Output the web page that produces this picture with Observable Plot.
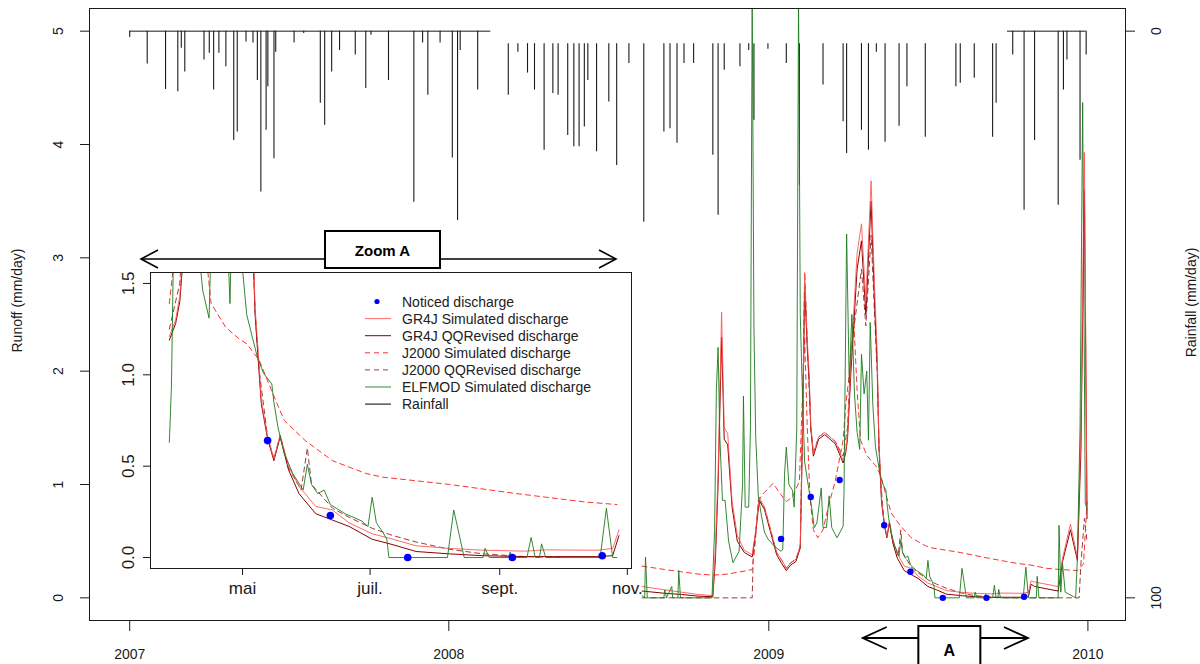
<!DOCTYPE html>
<html><head><meta charset="utf-8">
<script src="https://cdn.jsdelivr.net/npm/d3@7"></script>
<script src="https://cdn.jsdelivr.net/npm/@observablehq/plot@0.6"></script>
<style>
body{margin:0;background:#fff;}
#wrap{position:relative;width:1200px;height:664px;overflow:hidden;font-family:"Liberation Sans",Arial,sans-serif;background:#fff;}
#wrap svg{position:absolute;left:0;top:0;}
</style></head><body><div id="wrap"></div>
<script>
// ---------- tick labels / categories ----------
const yearTicks = ["2007-01-01","2008-01-01","2009-01-01","2010-01-01"];
const yearLabels = ["2007","2008","2009","2010"];
const runoffTicks = [0,1,2,3,4,5];
const rainTicks = [0,100];
const monthTicks = ["2009-05-01","2009-07-01","2009-09-01","2009-11-01"];
const monthLabels = ["mai","juil.","sept.","nov."];
const insetTicks = [0,0.5,1,1.5];
const zoomWindow = ["2009-04-19","2009-10-25"];
const insetWindow = ["2009-03-18","2009-11-03"];
const insetDataRange = ["2009-03-27","2009-10-28"];
const legendLabels = ["Noticed discharge","GR4J Simulated discharge","GR4J QQRevised discharge","J2000 Simulated discharge","J2000 QQRevised discharge","ELFMOD Simulated discharge","Rainfall"];

// ---------- rainfall (mm/day) ----------
const rainSpanA = ["2007-01-01","2008-02-18"];
const rainA = [["2007-01-01",1.1],["2007-01-21",5.8],["2007-02-11",10.3],["2007-02-25",10.7],["2007-03-01",3.0],["2007-03-05",7.2],["2007-03-27",5.1],["2007-04-02",3.9],["2007-04-07",10.4],["2007-04-13",3.9],["2007-04-21",6.3],["2007-04-30",19.3],["2007-05-04",17.8],["2007-05-14",1.9],["2007-05-22",2.1],["2007-05-27",8.7],["2007-05-31",28.4],["2007-06-06",17.5],["2007-06-08",9.8],["2007-06-15",22.5],["2007-06-17",3.7],["2007-07-08",2.1],["2007-07-19",0.4],["2007-08-07",12.7],["2007-08-12",16.6],["2007-08-20",7.2],["2007-08-29",3.4],["2007-09-16",4.2],["2007-09-28",10.1],["2007-10-04",0.7],["2007-10-24",8.7],["2007-11-22",30.2],["2007-12-02",2.1],["2007-12-08",11.3],["2007-12-22",2.1],["2008-01-05",22.4],["2008-01-11",33.4],["2008-01-14",3.4],["2008-02-03",10.4]];
const rainBaseB = 2.2;
const rainB = [["2008-03-09",11.3],["2008-03-20",3.7],["2008-03-31",7.4],["2008-04-08",10.4],["2008-04-19",21.0],["2008-04-29",11.0],["2008-05-05",11.3],["2008-05-16",18.4],["2008-05-23",20.4],["2008-05-29",20.4],["2008-06-04",16.9],["2008-06-08",8.7],["2008-06-18",21.3],["2008-07-02",12.5],["2008-07-11",23.7],["2008-07-25",5.7],["2008-08-11",33.7],["2008-09-03",17.8],["2008-09-10",17.2],["2008-09-18",19.8],["2008-09-26",5.7],["2008-10-07",5.7],["2008-10-29",21.9],["2008-11-04",32.5],["2008-11-11",6.9],["2008-11-29",6.3],["2008-12-09",3.4],["2008-12-15",15.7],["2008-12-31",3.2],["2009-01-21",5.7],["2009-02-05",27.2],["2009-03-04",9.5],["2009-03-27",16.0],["2009-03-31",21.6],["2009-04-17",17.5],["2009-04-25",21.0],["2009-05-04",3.7],["2009-05-14",19.6],["2009-05-30",16.8],["2009-06-08",9.8],["2009-06-29",18.7],["2009-08-03",9.8],["2009-08-08",9.2],["2009-08-24",8.3],["2009-09-14",18.7],["2009-09-18",12.7]];
const rainSpanC = ["2009-10-01","2009-12-30"];
const rainC = [["2009-10-07",4.2],["2009-10-20",31.6],["2009-11-01",19.3],["2009-11-28",30.7],["2009-12-04",10.4],["2009-12-08",5.1],["2009-12-23",22.8],["2009-12-30",4.2]];

// ---------- discharge (mm/day) ----------
const observed = [["2009-01-15",0.52],["2009-02-18",0.89],["2009-03-23",1.04],["2009-05-13",0.64],["2009-06-12",0.23],["2009-07-19",0.0],["2009-09-07",0.0],["2009-10-20",0.01]];

const gr4jSim = [["2008-08-09",0.10],["2008-09-04",0.07],["2008-09-23",0.05],["2008-10-12",0.03],["2008-10-29",0.02],["2008-11-01",0.45],["2008-11-04",1.10],["2008-11-08",2.52],["2008-11-11",1.50],["2008-11-15",1.45],["2008-11-20",0.85],["2008-11-26",0.55],["2008-12-04",0.42],["2008-12-13",0.38],["2008-12-17",0.59],["2008-12-21",0.89],["2008-12-27",0.80],["2009-01-03",0.60],["2009-01-10",0.40],["2009-01-16",0.33],["2009-01-21",0.26],["2009-01-26",0.31],["2009-02-01",0.34],["2009-02-06",0.46],["2009-02-09",1.68],["2009-02-11",2.87],["2009-02-14",2.27],["2009-02-16",2.00],["2009-02-18",1.53],["2009-02-21",1.27],["2009-02-27",1.42],["2009-03-06",1.46],["2009-03-12",1.42],["2009-03-18",1.38],["2009-03-27",1.21],["2009-03-30",1.30],["2009-04-01",1.43],["2009-04-05",2.10],["2009-04-12",3.04],["2009-04-17",3.30],["2009-04-22",2.62],["2009-04-28",3.68],["2009-05-02",2.74],["2009-05-05",2.15],["2009-05-07",1.37],["2009-05-09",1.04],["2009-05-10",0.86],["2009-05-13",0.66],["2009-05-16",0.54],["2009-05-19",0.67],["2009-05-23",0.50],["2009-05-28",0.39],["2009-06-05",0.28],["2009-06-13",0.26],["2009-06-21",0.19],["2009-07-02",0.13],["2009-07-12",0.10],["2009-07-23",0.064],["2009-08-08",0.05],["2009-08-24",0.04],["2009-09-13",0.035],["2009-09-23",0.042],["2009-10-18",0.04],["2009-10-25",0.05],["2009-10-28",0.15],["2009-11-01",0.14],["2009-11-28",0.10],["2009-12-03",0.35],["2009-12-12",0.65],["2009-12-20",0.36],["2009-12-24",1.5],["2009-12-28",3.93],["2009-12-31",0.74]];

const gr4jQQ = [["2008-08-09",0.06],["2008-09-04",0.04],["2008-09-23",0.03],["2008-10-12",0.015],["2008-10-29",0.01],["2008-11-01",0.35],["2008-11-04",1.0],["2008-11-08",2.3],["2008-11-11",1.4],["2008-11-15",1.35],["2008-11-20",0.8],["2008-11-26",0.5],["2008-12-04",0.4],["2008-12-13",0.36],["2008-12-17",0.57],["2008-12-21",0.86],["2008-12-27",0.78],["2009-01-03",0.58],["2009-01-10",0.38],["2009-01-16",0.30],["2009-01-21",0.24],["2009-01-26",0.29],["2009-02-01",0.32],["2009-02-06",0.44],["2009-02-09",1.6],["2009-02-11",2.75],["2009-02-14",2.2],["2009-02-16",1.95],["2009-02-18",1.5],["2009-02-21",1.25],["2009-02-27",1.4],["2009-03-06",1.44],["2009-03-12",1.4],["2009-03-18",1.36],["2009-03-27",1.19],["2009-03-30",1.28],["2009-04-01",1.4],["2009-04-05",2.0],["2009-04-12",2.9],["2009-04-17",3.15],["2009-04-22",2.5],["2009-04-28",3.5],["2009-05-02",2.6],["2009-05-05",2.05],["2009-05-07",1.33],["2009-05-09",1.0],["2009-05-10",0.84],["2009-05-13",0.65],["2009-05-16",0.53],["2009-05-19",0.66],["2009-05-23",0.48],["2009-05-28",0.35],["2009-06-05",0.24],["2009-06-13",0.205],["2009-06-21",0.17],["2009-07-02",0.10],["2009-07-12",0.07],["2009-07-23",0.033],["2009-08-08",0.02],["2009-08-24",0.01],["2009-09-13",0.005],["2009-10-18",0.005],["2009-10-25",0.01],["2009-10-28",0.12],["2009-11-01",0.10],["2009-11-28",0.06],["2009-12-03",0.32],["2009-12-12",0.6],["2009-12-20",0.33],["2009-12-24",1.3],["2009-12-28",3.6],["2009-12-31",0.7]];

const j2000Sim = [["2008-08-09",0.28],["2008-09-04",0.25],["2008-09-23",0.23],["2008-10-12",0.21],["2008-10-29",0.20],["2008-11-15",0.21],["2008-11-30",0.23],["2008-12-13",0.25],["2008-12-16",0.45],["2008-12-20",0.86],["2008-12-27",0.93],["2009-01-06",1.01],["2009-01-14",0.92],["2009-01-21",0.85],["2009-01-28",0.89],["2009-02-05",1.03],["2009-02-08",1.68],["2009-02-11",2.3],["2009-02-14",1.5],["2009-02-17",0.9],["2009-02-21",0.6],["2009-02-26",0.53],["2009-03-04",0.6],["2009-03-10",0.8],["2009-03-18",1.03],["2009-03-27",1.39],["2009-03-30",1.7],["2009-04-04",2.03],["2009-04-08",2.48],["2009-04-12",1.83],["2009-04-16",1.39],["2009-04-23",1.26],["2009-04-29",1.20],["2009-05-03",1.17],["2009-05-09",1.08],["2009-05-15",0.91],["2009-05-21",0.75],["2009-05-31",0.64],["2009-06-13",0.53],["2009-06-29",0.46],["2009-07-07",0.44],["2009-08-08",0.40],["2009-09-09",0.35],["2009-10-11",0.305],["2009-10-27",0.29],["2009-11-15",0.26],["2009-12-01",0.25],["2009-12-20",0.24],["2009-12-27",0.30],["2009-12-31",0.85]];

const j2000QQ = [["2008-08-09",0.0],["2008-12-13",0.0],["2008-12-14",0.32],["2008-12-17",0.57],["2008-12-21",0.86],["2008-12-27",0.8],["2009-01-03",0.6],["2009-01-10",0.4],["2009-01-16",0.33],["2009-01-21",0.26],["2009-01-26",0.31],["2009-02-01",0.34],["2009-02-06",0.46],["2009-02-09",1.8],["2009-02-11",2.87],["2009-02-14",2.25],["2009-02-18",1.5],["2009-02-21",1.27],["2009-02-27",1.42],["2009-03-06",1.46],["2009-03-12",1.42],["2009-03-18",1.38],["2009-03-27",1.25],["2009-04-01",1.5],["2009-04-05",2.18],["2009-04-12",2.6],["2009-04-17",2.9],["2009-04-22",2.4],["2009-04-28",3.2],["2009-05-02",2.5],["2009-05-05",2.0],["2009-05-07",1.35],["2009-05-09",1.02],["2009-05-13",0.66],["2009-05-16",0.54],["2009-05-19",0.67],["2009-05-23",0.49],["2009-05-29",0.37],["2009-06-01",0.60],["2009-06-03",0.40],["2009-06-13",0.27],["2009-06-21",0.22],["2009-07-02",0.16],["2009-07-12",0.12],["2009-07-23",0.085],["2009-08-08",0.045],["2009-08-24",0.02],["2009-09-13",0.005],["2009-10-01",0.0],["2009-12-22",0.0],["2009-12-24",0.3],["2009-12-28",0.7],["2009-12-31",0.5]];

const elfmodSim = [["2008-08-09",0.02],["2008-08-12",0.0],["2008-08-13",0.36],["2008-08-15",0.0],["2008-09-03",0.0],["2008-09-04",0.07],["2008-09-06",0.0],["2008-09-12",0.10],["2008-09-13",0.0],["2008-09-19",0.0],["2008-09-20",0.24],["2008-09-22",0.0],["2008-10-28",0.0],["2008-10-31",0.6],["2008-11-02",1.83],["2008-11-04",2.21],["2008-11-06",1.42],["2008-11-09",0.86],["2008-11-12",0.86],["2008-11-16",0.5],["2008-11-21",0.31],["2008-11-28",0.41],["2008-12-02",1.0],["2008-12-03",1.78],["2008-12-05",0.8],["2008-12-09",0.8],["2008-12-11",1.5],["2008-12-13",5.3],["2008-12-15",2.39],["2008-12-17",1.43],["2008-12-20",0.9],["2008-12-23",0.75],["2008-12-27",0.58],["2008-12-31",0.52],["2009-01-08",0.45],["2009-01-15",0.41],["2009-01-17",0.43],["2009-01-19",1.09],["2009-01-21",1.33],["2009-01-24",1.0],["2009-01-28",0.95],["2009-01-30",0.8],["2009-02-02",1.5],["2009-02-04",5.3],["2009-02-06",2.5],["2009-02-08",1.92],["2009-02-11",1.2],["2009-02-19",0.8],["2009-02-22",0.62],["2009-02-25",0.66],["2009-03-02",0.97],["2009-03-04",0.62],["2009-03-08",0.62],["2009-03-11",0.9],["2009-03-14",0.62],["2009-03-20",0.53],["2009-03-27",0.63],["2009-03-28",0.93],["2009-03-31",3.21],["2009-04-03",1.9],["2009-04-06",2.5],["2009-04-09",1.8],["2009-04-12",1.46],["2009-04-15",1.31],["2009-04-17",2.15],["2009-04-20",1.8],["2009-04-23",2.0],["2009-04-25",1.39],["2009-04-27",2.43],["2009-04-30",1.7],["2009-05-03",1.33],["2009-05-08",1.10],["2009-05-11",1.01],["2009-05-15",0.95],["2009-05-16",0.85],["2009-05-18",0.71],["2009-05-21",0.57],["2009-05-25",0.46],["2009-05-30",0.37],["2009-06-01",0.51],["2009-06-03",0.40],["2009-06-06",0.35],["2009-06-09",0.37],["2009-06-12",0.29],["2009-06-19",0.24],["2009-06-27",0.20],["2009-06-30",0.17],["2009-07-02",0.33],["2009-07-04",0.19],["2009-07-07",0.14],["2009-07-09",0.10],["2009-07-10",0.0],["2009-08-07",0.0],["2009-08-10",0.26],["2009-08-15",0.0],["2009-08-24",0.0],["2009-08-25",0.05],["2009-08-27",0.0],["2009-09-05",0.0],["2009-09-06",0.03],["2009-09-07",0.0],["2009-09-14",0.0],["2009-09-16",0.11],["2009-09-18",0.0],["2009-09-20",0.0],["2009-09-21",0.075],["2009-09-23",0.0],["2009-10-19",0.0],["2009-10-22",0.27],["2009-10-25",0.0],["2009-10-27",0.0],["2009-11-03",0.0],["2009-11-04",0.19],["2009-11-06",0.0],["2009-11-28",0.0],["2009-11-29",0.64],["2009-12-01",0.05],["2009-12-03",0.30],["2009-12-06",0.05],["2009-12-18",0.0],["2009-12-20",0.36],["2009-12-23",1.5],["2009-12-26",4.37],["2009-12-28",1.98],["2009-12-29",0.84],["2009-12-31",0.78]];

// ---------- rendering ----------
const parse = d3.utcParse("%Y-%m-%d");
const FONT = "'Liberation Sans', Arial, sans-serif";
const INK = "#1a1a1a";
const RAIN_FULL = 100, RUNOFF_FULL = 5;           // right axis: 0 mm at runoff 5, 100 mm at runoff 0
const rainToY = mm => RUNOFF_FULL - mm * RUNOFF_FULL / RAIN_FULL;
const X = d => parse(d[0]), Y = d => d[1];
const [inStart, inEnd] = insetDataRange.map(parse);
const inRange = arr => arr.filter(d => { const t = parse(d[0]); return t >= inStart && t <= inEnd; });

const styles = {
  gr4jSim: {stroke:"#ff5050", strokeOpacity:0.85, strokeWidth:1},
  gr4jQQ:  {stroke:"#8b0000", strokeWidth:1},
  j2000Sim:{stroke:"#ff3030", strokeWidth:1, strokeDasharray:"5,4"},
  j2000QQ: {stroke:"#a33a3a", strokeWidth:1, strokeDasharray:"5,4"},
  elfmod:  {stroke:"#1e7b1e", strokeOpacity:0.9, strokeWidth:1},
  obs:     {fill:"#0000ff"}
};
const seriesMarks = (f) => [
  Plot.line(f(j2000QQ), {x:X, y:Y, ...styles.j2000QQ, clip:true}),
  Plot.line(f(j2000Sim), {x:X, y:Y, ...styles.j2000Sim, clip:true}),
  Plot.line(f(gr4jQQ), {x:X, y:Y, ...styles.gr4jQQ, clip:true}),
  Plot.line(f(gr4jSim), {x:X, y:Y, ...styles.gr4jSim, clip:true}),
  Plot.line(f(elfmodSim), {x:X, y:Y, ...styles.elfmod, clip:true}),
];
const rot = {rotate:-90, textAnchor:"middle", lineAnchor:"middle", fill:INK};

const wrap = document.getElementById("wrap");

const main = Plot.plot({
  width:1200, height:664, marginLeft:89, marginRight:75, marginTop:8, marginBottom:44,
  style:{fontFamily:FONT, background:"transparent", overflow:"visible"},
  x:{type:"utc", domain:[parse("2006-11-16"), parse("2010-02-13")]},
  y:{domain:[-0.2, 5.2]},
  marks:[
    // rainfall (inverted secondary axis)
    Plot.ruleY([rainSpanA], {x1:d=>parse(d[0]), x2:d=>parse(d[1]), y:rainToY(0), stroke:INK, strokeWidth:1}),
    Plot.ruleX(rainA, {x:X, y1:rainToY(0), y2:d=>rainToY(d[1]), stroke:INK, strokeWidth:1.1}),
    Plot.ruleX(rainB, {x:X, y1:rainToY(rainBaseB), y2:d=>rainToY(d[1]), stroke:INK, strokeWidth:1.1}),
    Plot.ruleY([rainSpanC], {x1:d=>parse(d[0]), x2:d=>parse(d[1]), y:rainToY(0), stroke:INK, strokeWidth:1}),
    Plot.ruleX(rainC, {x:X, y1:rainToY(0), y2:d=>rainToY(d[1]), stroke:INK, strokeWidth:1.1}),
    ...seriesMarks(a => a),
    Plot.dot(observed, {x:X, y:Y, r:3.2, ...styles.obs, stroke:null}),
    Plot.frame({stroke:INK}),
    Plot.axisY({ticks:runoffTicks, tickSize:9, tickFormat:()=>"", label:null, stroke:INK}),
    Plot.text(runoffTicks, {y:d=>d, text:d=>String(d), frameAnchor:"left", dx:-31, fontSize:14, ...rot}),
    Plot.axisY({anchor:"right", ticks:rainTicks.map(rainToY), tickSize:9, tickFormat:()=>"", label:null, stroke:INK}),
    Plot.text(rainTicks, {y:d=>rainToY(d), text:d=>String(d), frameAnchor:"right", dx:31, fontSize:14, ...rot}),
    Plot.axisX({ticks:yearTicks.map(parse), tickSize:11, tickFormat:()=>"", label:null, stroke:INK}),
    Plot.text(yearTicks, {x:d=>parse(d), text:(d,i)=>yearLabels[i], frameAnchor:"bottom", dy:34, fontSize:14, lineAnchor:"middle", fill:INK}),
    Plot.text(["Runoff (mm/day)"], {frameAnchor:"left", dx:-72, dy:-14, fontSize:14, ...rot}),
    Plot.text(["Rainfall (mm/day)"], {frameAnchor:"right", dx:66, dy:-12, fontSize:14, ...rot})
  ]
});
wrap.appendChild(main);

const inset = Plot.plot({
  width:1200, height:664, marginLeft:150, marginRight:569, marginTop:272, marginBottom:96,
  style:{fontFamily:FONT, background:"transparent", overflow:"visible"},
  x:{type:"utc", domain:insetWindow.map(parse)},
  y:{domain:[-0.06, 1.56]},
  marks:[
    Plot.frame({fill:"white", stroke:INK}),
    ...seriesMarks(inRange),
    Plot.dot(inRange(observed), {x:X, y:Y, r:3.8, ...styles.obs, stroke:null, clip:true}),
    Plot.frame({stroke:INK}),
    Plot.axisX({ticks:monthTicks.map(parse), tickSize:7, tickFormat:()=>"", label:null, stroke:INK}),
    Plot.text(monthTicks, {x:d=>parse(d), text:(d,i)=>monthLabels[i], frameAnchor:"bottom", dy:20, lineAnchor:"middle", fontSize:17, fill:INK}),
    Plot.axisY({ticks:insetTicks, tickSize:7, tickFormat:()=>"", label:null, stroke:INK}),
    Plot.text(insetTicks, {y:d=>d, text:d=>d.toFixed(1), frameAnchor:"left", dx:-22, fontSize:17, ...rot})
  ]
});
wrap.appendChild(inset);

// ---------- annotations & legend ----------
const svg = d3.select(wrap).append("svg").attr("width",1200).attr("height",664)
  .style("font-family", FONT);
function doubleArrow(x1, x2, y, hx, hy, w){
  svg.append("line").attr("x1",x1).attr("x2",x2).attr("y1",y).attr("y2",y).attr("stroke","#000").attr("stroke-width",w);
  svg.append("path").attr("d",`M${x1+hx},${y-hy}L${x1},${y}L${x1+hx},${y+hy}`).attr("fill","none").attr("stroke","#000").attr("stroke-width",w);
  svg.append("path").attr("d",`M${x2-hx},${y-hy}L${x2},${y}L${x2-hx},${y+hy}`).attr("fill","none").attr("stroke","#000").attr("stroke-width",w);
}
// Zoom A banner above the inset
doubleArrow(141, 616, 259, 17, 9, 1.6);
svg.append("rect").attr("x",325).attr("y",231).attr("width",115).attr("height",37).attr("fill","#fff").attr("stroke","#000").attr("stroke-width",2);
svg.append("text").attr("x",382.5).attr("y",250).attr("text-anchor","middle").attr("dominant-baseline","central")
  .attr("font-weight","bold").attr("font-size",15).text("Zoom A");
// A window on main time axis
const sx = main.scale("x");
const ax1 = sx.apply(parse(zoomWindow[0])), ax2 = sx.apply(parse(zoomWindow[1]));
doubleArrow(ax1, ax2, 638, 24, 11, 1.8);
const amid = (ax1 + ax2) / 2 + 4;
svg.append("rect").attr("x",amid-31).attr("y",626).attr("width",62).attr("height",50).attr("fill","#fff").attr("stroke","#000").attr("stroke-width",2);
svg.append("text").attr("x",amid).attr("y",650).attr("text-anchor","middle").attr("dominant-baseline","central")
  .attr("font-weight","bold").attr("font-size",16).text("A");

// legend
const legendStyles = [styles.obs, styles.gr4jSim, styles.gr4jQQ, styles.j2000Sim, styles.j2000QQ, styles.elfmod, {stroke:"#000", strokeWidth:1}];
legendLabels.forEach((lab, i) => {
  const y = 301.5 + 17.1 * i;
  const s = legendStyles[i];
  if (i === 0) {
    svg.append("circle").attr("cx",377).attr("cy",y).attr("r",2.6).attr("fill",s.fill);
  } else {
    svg.append("line").attr("x1",365).attr("x2",391).attr("y1",y).attr("y2",y)
      .attr("stroke",s.stroke).attr("stroke-opacity",s.strokeOpacity||1)
      .attr("stroke-width",1).attr("stroke-dasharray",s.strokeDasharray||null);
  }
  svg.append("text").attr("x",402).attr("y",y).attr("dominant-baseline","central")
    .attr("font-size",14).attr("fill","#222").text(lab);
});
</script>
</body></html>
